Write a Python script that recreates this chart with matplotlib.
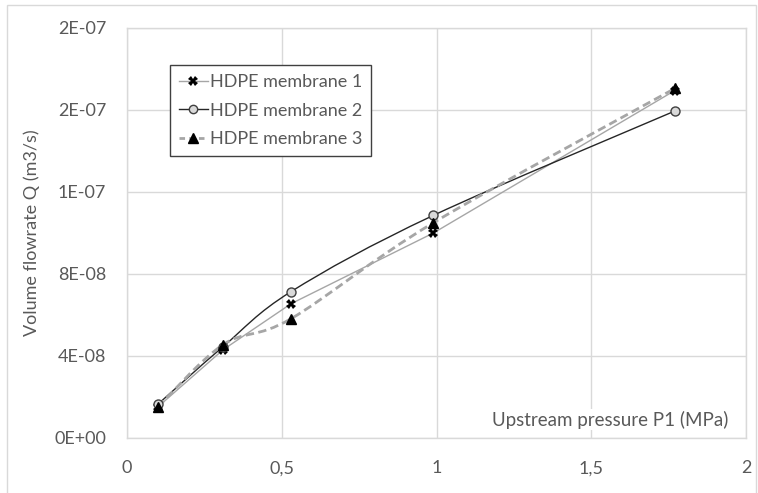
import matplotlib
matplotlib.use('Agg')
import matplotlib.pyplot as plt
from matplotlib.path import Path
from matplotlib.patches import PathPatch, Rectangle
from matplotlib.lines import Line2D
from matplotlib.ticker import FuncFormatter, MultipleLocator
import numpy as np

plt.rcParams['font.family'] = ['Lato', 'DejaVu Sans']

# Upstream pressure P1 (MPa)
p1_m1 = [0.10, 0.31, 0.53, 0.99, 1.77]
p1_m2 = [0.10, 0.31, 0.53, 0.99, 1.77]
p1_m3 = [0.10, 0.31, 0.53, 0.99, 1.77]

# Volume flowrate Q (m3/s)
q_m1 = [1.52e-08, 4.30e-08, 6.55e-08, 1.00e-07, 1.695e-07]
q_m2 = [1.65e-08, 4.45e-08, 7.14e-08, 1.086e-07, 1.595e-07]
q_m3 = [1.52e-08, 4.55e-08, 5.82e-08, 1.05e-07, 1.705e-07]

labels = ['HDPE membrane 1', 'HDPE membrane 2', 'HDPE membrane 3']

TXT = '#595959'
GRID = '#d9d9d9'


def smooth_path(x, y):
    # Excel-like smoothed line: cubic Bezier through the points (Catmull-Rom control points)
    pts = np.column_stack([x, y])
    n = len(pts)
    verts = [pts[0]]
    codes = [Path.MOVETO]
    for i in range(n - 1):
        p0 = pts[max(i - 1, 0)]
        p1 = pts[i]
        p2 = pts[i + 1]
        p3 = pts[min(i + 2, n - 1)]
        c1 = p1 + (p2 - p0) / 6.0
        c2 = p2 - (p3 - p1) / 6.0
        verts += [c1, c2, p2]
        codes += [Path.CURVE4] * 3
    return Path(verts, codes)


fig = plt.figure(figsize=(7.58, 4.93), dpi=100)
ax = fig.add_axes([127 / 758, 1 - 438 / 493, (746 - 127) / 758, (438 - 28) / 493])

# outer chart border
fig.patches.append(Rectangle((7 / 758, -0.05), 749 / 758, 1.04 - 5 / 493 + 0.01,
                             transform=fig.transFigure, fill=False,
                             edgecolor=GRID, linewidth=1))

# membrane 1: straight light-gray line
ax.plot(p1_m1, q_m1, color='#a6a6a6', lw=1.0, zorder=3)
# membrane 2: smoothed dark line
ax.add_patch(PathPatch(smooth_path(p1_m2, q_m2), fill=False, edgecolor='#262626',
                       lw=1.0, zorder=3))
# membrane 3: smoothed dashed gray line
ax.add_patch(PathPatch(smooth_path(p1_m3, q_m3), fill=False, edgecolor='#a6a6a6',
                       lw=2.0, linestyle=(0, (3, 1.6)), zorder=3))

ax.plot(p1_m1, q_m1, ls='none', marker='X', ms=6.5, color='black', mew=0, zorder=5)
ax.plot(p1_m2, q_m2, ls='none', marker='o', ms=6.5, mfc='#d9d9d9', mec='#404040',
        mew=1.0, zorder=5)
ax.plot(p1_m3, q_m3, ls='none', marker='^', ms=6.5, color='black', zorder=6)

ax.set_xlim(0, 2)
ax.set_ylim(0, 2e-07)
ax.xaxis.set_major_locator(MultipleLocator(0.5))
ax.yaxis.set_major_locator(MultipleLocator(4e-08))
ax.xaxis.set_major_formatter(FuncFormatter(lambda v, p: f'{v:g}'.replace('.', ',')))
ax.yaxis.set_major_formatter(FuncFormatter(lambda v, p: f'{v:.0E}'))
ax.tick_params(axis='both', length=0, labelsize=13, colors=TXT)
ax.tick_params(axis='y', pad=15)
ax.tick_params(axis='x', pad=16)
ax.grid(True, color=GRID, lw=1.0)
ax.set_axisbelow(True)
for s in ax.spines.values():
    s.set_color(GRID)
    s.set_linewidth(1.0)

ax.set_ylabel('Volume flowrate Q (m3/s)', fontsize=13, color=TXT, labelpad=10)
ax.text(0.971, 0.045, 'Upstream pressure P1 (MPa)', transform=ax.transAxes,
        ha='right', va='center', fontsize=13.5, color=TXT,
        bbox=dict(facecolor='white', edgecolor='none', pad=1))

handles = [
    Line2D([], [], color='#a6a6a6', lw=1.0, marker='X', ms=7, mfc='black', mec='black', mew=0),
    Line2D([], [], color='#262626', lw=1.0, marker='o', ms=6, mfc='#d9d9d9', mec='#404040'),
    Line2D([], [], color='#a6a6a6', lw=2.0, ls=(0, (2, 1.5)), marker='^', ms=7,
           mfc='black', mec='black'),
]
leg = ax.legend(handles, labels, loc='upper left',
                bbox_to_anchor=(170 / 758, 1 - 65 / 493), bbox_transform=fig.transFigure,
                fontsize=13, frameon=True, fancybox=False, framealpha=1,
                edgecolor='#404040', handlelength=1.6, handletextpad=0.1,
                labelspacing=0.7, borderpad=0.5, borderaxespad=0)
leg.get_frame().set_linewidth(1.0)
for t in leg.get_texts():
    t.set_color(TXT)

fig.savefig('out.png', dpi=100)
